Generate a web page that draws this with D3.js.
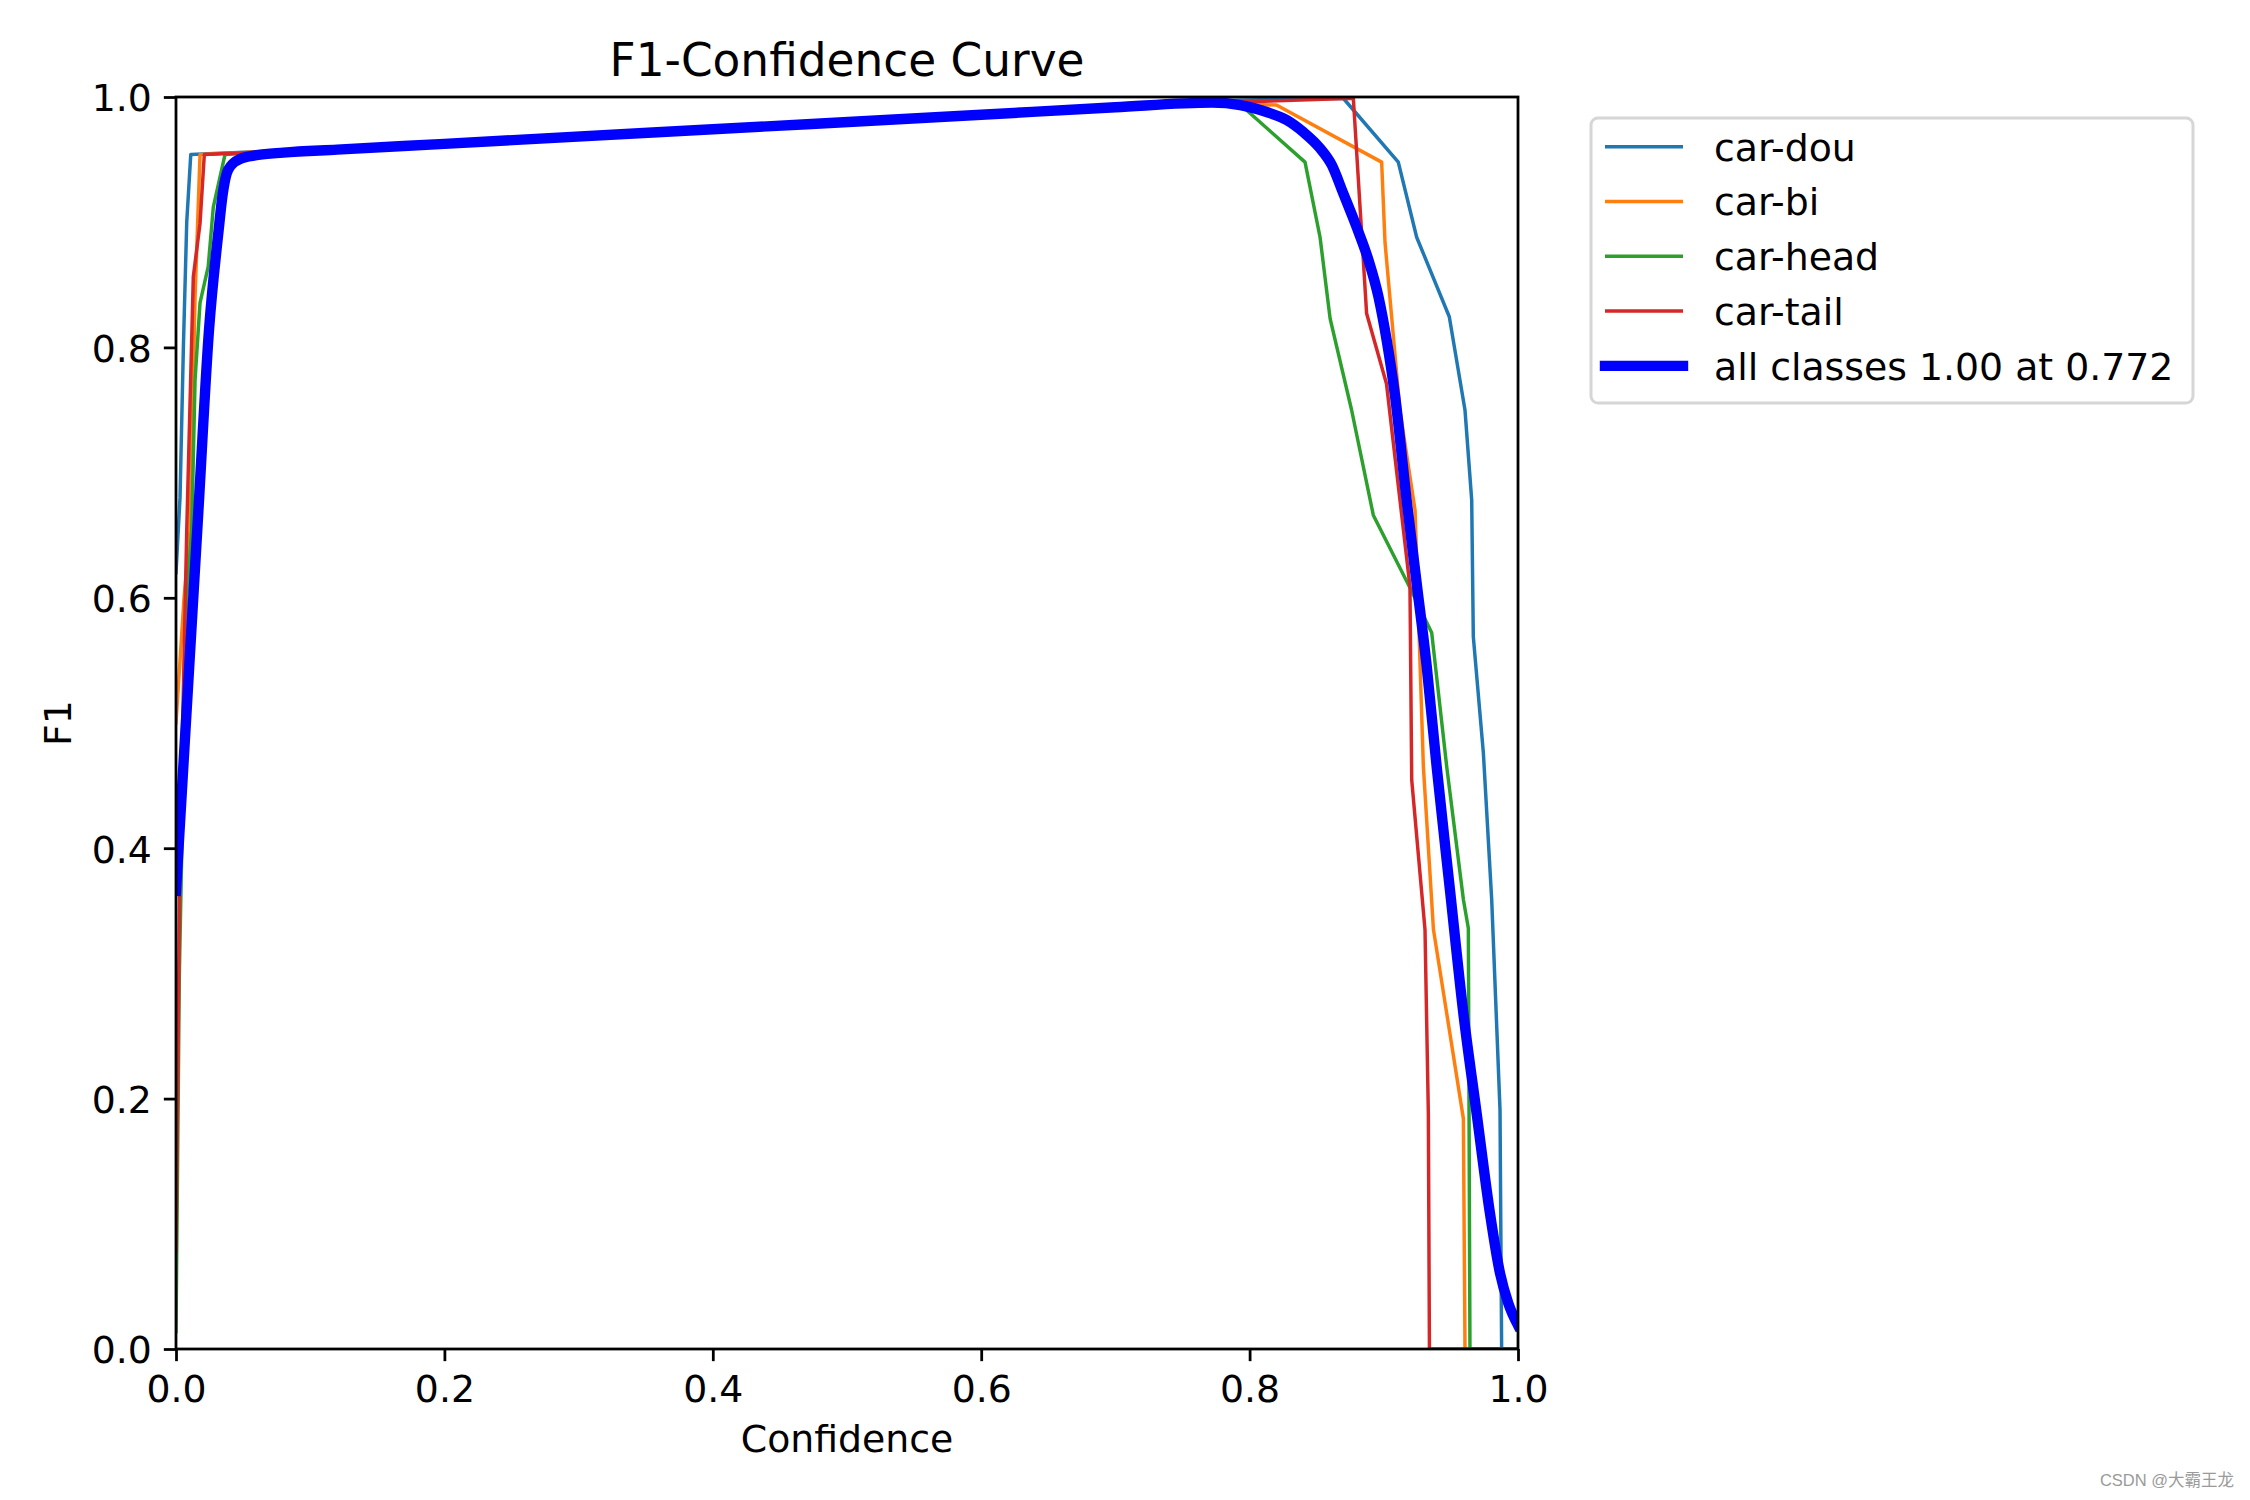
<!DOCTYPE html>
<html>
<head>
<meta charset="utf-8">
<script src="https://cdn.jsdelivr.net/npm/d3@7"></script>
<style>
  html, body { margin: 0; padding: 0; background: #fff; }
  svg { display: block; font-family: "DejaVu Sans", sans-serif; }
</style>
</head>
<body>
<svg id="chart" width="2250" height="1500"></svg>
<script>
// ---------- data (confidence, F1) ----------
const carDou = [[0,0.62],[0.003,0.68],[0.0055,0.80],[0.008,0.90],[0.011,0.954],[0.1,0.958],[0.4,0.975],[0.77,0.997],[0.8698,0.999],[0.9108,0.948],[0.9245,0.888],[0.9488,0.8245],[0.9605,0.750],[0.9655,0.678],[0.9667,0.569],[0.9742,0.476],[0.9804,0.359],[0.9866,0.191],[0.9878,0.0],[1.0,0.0]];
const carBi = [[0,0.50],[0.006,0.60],[0.0104,0.654],[0.0142,0.84],[0.0179,0.954],[0.1,0.958],[0.4,0.975],[0.77,0.995],[0.82,0.9936],[0.8984,0.948],[0.9009,0.884],[0.912,0.750],[0.9233,0.670],[0.9295,0.465],[0.937,0.335],[0.9593,0.184],[0.9605,0.0],[1.0,0.0]];
const carHead = [[0,0.014],[0.0025,0.30],[0.008,0.60],[0.0117,0.654],[0.0142,0.774],[0.0179,0.8355],[0.024,0.8645],[0.0278,0.912],[0.0365,0.954],[0.1,0.958],[0.4,0.975],[0.77,0.994],[0.793,0.994],[0.8413,0.948],[0.8525,0.888],[0.86,0.823],[0.876,0.750],[0.8922,0.666],[0.9195,0.608],[0.9357,0.572],[0.9469,0.465],[0.9593,0.359],[0.963,0.336],[0.9642,0.0],[1.0,0.0]];
const carTail = [[0,0.078],[0.003,0.40],[0.008,0.654],[0.0129,0.8565],[0.0179,0.899],[0.0211,0.954],[0.1,0.958],[0.4,0.976],[0.793,0.996],[0.8773,0.999],[0.8872,0.827],[0.902,0.771],[0.9195,0.609],[0.9208,0.4545],[0.9307,0.335],[0.9332,0.188],[0.934,0.0],[1.0,0.0]];
const allClasses = [[0,0.366],[0.0166,0.668],[0.0246,0.814],[0.0318,0.894],[0.0345,0.92],[0.039,0.942],[0.0477,0.9505],[0.06,0.9535],[0.08,0.9556],[0.12,0.958],[0.2,0.9626],[0.4,0.9742],[0.6,0.9858],[0.7,0.9918],[0.772,0.9955],[0.793,0.9936],[0.8127,0.988],[0.8276,0.9816],[0.84,0.972],[0.8525,0.959],[0.8612,0.9457],[0.8698,0.923],[0.8798,0.896],[0.8885,0.87],[0.896,0.8405],[0.9021,0.806],[0.9083,0.762],[0.917,0.678],[0.9245,0.6116],[0.932,0.545],[0.9394,0.465],[0.9493,0.3666],[0.9593,0.268],[0.9692,0.188],[0.9791,0.1084],[0.9866,0.0605],[0.9928,0.0365],[1.0,0.019]];

const seriesNames = ["car-dou", "car-bi", "car-head", "car-tail", "all classes 1.00 at 0.772"];
const seriesColors = ["#1f77b4", "#ff7f0e", "#2ca02c", "#d62728", "#0000ff"];
const xTicks = [0, 0.2, 0.4, 0.6, 0.8, 1.0];
const yTicks = [0, 0.2, 0.4, 0.6, 0.8, 1.0];
const titleText = "F1-Confidence Curve";
const xLabelText = "Confidence";
const yLabelText = "F1";
const watermark = "CSDN @大霸王龙";

// ---------- layout ----------
const FS = 37.8;      // base font size
const FS_TITLE = 45.4;
const svg = d3.select("#chart");
const plot = { left: 176, top: 97, width: 1342, height: 1252 };
const x = d3.scaleLinear().domain([0, 1]).range([plot.left, plot.left + plot.width]);
const y = d3.scaleLinear().domain([0, 1]).range([plot.top + plot.height, plot.top]);

svg.append("defs").append("clipPath").attr("id", "clip")
  .append("rect").attr("x", plot.left).attr("y", plot.top)
  .attr("width", plot.width).attr("height", plot.height);

// lines
const lineLin = d3.line().x(d => x(d[0])).y(d => y(d[1]));
const lineSmooth = d3.line().x(d => x(d[0])).y(d => y(d[1])).curve(d3.curveMonotoneX);
const classSeries = [carDou, carBi, carHead, carTail];
const g = svg.append("g").attr("clip-path", "url(#clip)");
classSeries.forEach((s, i) => {
  g.append("path").datum(s).attr("d", lineLin)
    .attr("fill", "none").attr("stroke", seriesColors[i])
    .attr("stroke-width", 3.47).attr("stroke-linejoin", "round").attr("stroke-linecap", "square");
});
g.append("path").datum(allClasses).attr("d", lineSmooth)
  .attr("fill", "none").attr("stroke", seriesColors[4])
  .attr("stroke-width", 10.4).attr("stroke-linejoin", "round").attr("stroke-linecap", "square");

// axes
const fmt = d3.format(".1f");
const xAxis = svg.append("g").attr("transform", `translate(0,${plot.top + plot.height})`)
  .call(d3.axisBottom(x).tickValues(xTicks).tickFormat(fmt).tickSize(12.15).tickPadding(12));
const yAxis = svg.append("g").attr("transform", `translate(${plot.left},0)`)
  .call(d3.axisLeft(y).tickValues(yTicks).tickFormat(fmt).tickSize(12.15).tickPadding(12));
[xAxis, yAxis].forEach(a => {
  a.select(".domain").remove();
  a.selectAll(".tick line").attr("stroke", "#000").attr("stroke-width", 2.78);
  a.selectAll(".tick text").attr("fill", "#000").style("font-size", FS + "px")
    .style("font-family", "DejaVu Sans");
});
xAxis.selectAll(".tick text").attr("dy", null).attr("y", 52.5);
yAxis.selectAll(".tick text").attr("dy", null).attr("y", 13.8);

// frame (spines)
svg.append("rect").attr("x", plot.left).attr("y", plot.top)
  .attr("width", plot.width).attr("height", plot.height)
  .attr("fill", "none").attr("stroke", "#000").attr("stroke-width", 2.78);

// title and labels
svg.append("text").attr("x", plot.left + plot.width / 2).attr("y", 76)
  .attr("text-anchor", "middle").style("font-size", FS_TITLE + "px").text(titleText);
svg.append("text").attr("x", plot.left + plot.width / 2).attr("y", 1452)
  .attr("text-anchor", "middle").style("font-size", FS + "px").text(xLabelText);
svg.append("text").attr("transform", `translate(71,${plot.top + plot.height / 2}) rotate(-90)`)
  .attr("text-anchor", "middle").style("font-size", FS + "px").text(yLabelText);

// legend
const leg = { x: 1591, y: 118, w: 602, h: 285, row0: 146.7, rowStep: 54.8 };
svg.append("rect").attr("x", leg.x).attr("y", leg.y).attr("width", leg.w).attr("height", leg.h)
  .attr("rx", 7).attr("ry", 7).attr("fill", "#fff").attr("fill-opacity", 0.8)
  .attr("stroke", "#d6d6d6").attr("stroke-width", 3);
seriesNames.forEach((name, i) => {
  const yy = leg.row0 + i * leg.rowStep;
  svg.append("line").attr("x1", 1605).attr("x2", 1683).attr("y1", yy).attr("y2", yy)
    .attr("stroke", seriesColors[i]).attr("stroke-width", i === 4 ? 10.4 : 3.47)
    .attr("stroke-linecap", i === 4 ? "square" : "butt");
  svg.append("text").attr("x", 1714).attr("y", yy + 13.8)
    .style("font-size", FS + "px").text(name);
});

// watermark
svg.append("text").attr("x", 2234).attr("y", 1486).attr("text-anchor", "end")
  .attr("fill", "#9a9a9a").style("font-size", "16.5px")
  .style("font-family", "'Liberation Sans', 'Noto Sans CJK SC', sans-serif").text(watermark);
</script>
</body>
</html>
